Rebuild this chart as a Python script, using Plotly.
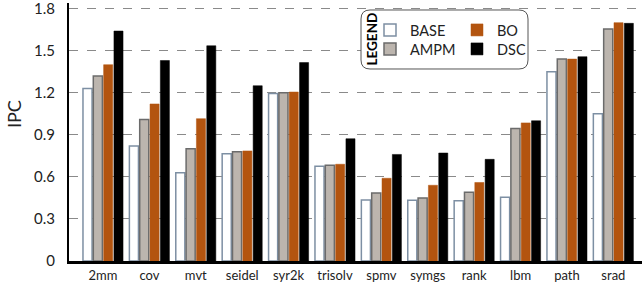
import plotly.graph_objects as go

categories = ["2mm", "cov", "mvt", "seidel", "syr2k", "trisolv", "spmv", "symgs", "rank", "lbm", "path", "srad"]
base = [1.23, 0.82, 0.63, 0.765, 1.195, 0.675, 0.435, 0.433, 0.43, 0.455, 1.35, 1.05]
ampm = [1.32, 1.01, 0.80, 0.78, 1.20, 0.683, 0.485, 0.45, 0.49, 0.945, 1.44, 1.655]
bo = [1.40, 1.12, 1.015, 0.785, 1.205, 0.69, 0.59, 0.54, 0.56, 0.985, 1.44, 1.70]
dsc = [1.64, 1.43, 1.535, 1.25, 1.415, 0.872, 0.76, 0.77, 0.725, 1.00, 1.457, 1.695]
y_ticks = [0, 0.3, 0.6, 0.9, 1.2, 1.5, 1.8]
y_tick_labels = ["0", "0.3", "0.6", "0.9", "1.2", "1.5", "1.8"]

FONT = "Lato"
W, H = 642, 287
ML, MR, MT, MB = 69, 0, 3, 26
PW, PH = W - ML - MR, H - MT - MB

def px_x(p):
    return (p - ML) / PW

def px_y(p):
    return (H - MB - p) / PH

fig = go.Figure()
series = [
    ("BASE", base, "#ffffff", "#7d8fa3", 1.5, "legend", 370, 30),
    ("AMPM", ampm, "#bcb5ae", "#6b6b6b", 1.5, "legend3", 370, 49),
    ("BO", bo, "#b3540f", "#b3540f", 0.5, "legend2", 457, 30),
    ("DSC", dsc, "#000000", "#000000", 0.5, "legend4", 457, 49),
]
legends = {}
for name, vals, fill, line, lw, leg, lx, ly in series:
    fig.add_trace(go.Bar(
        name=name, x=categories, y=vals,
        marker=dict(color=fill, line=dict(color=line, width=lw)),
        legend=leg,
    ))
    legends[leg] = dict(x=px_x(lx), y=px_y(ly), xanchor="left", yanchor="middle",
                        bgcolor="rgba(0,0,0,0)", font=dict(size=14.5, family=FONT, color="#222222"),
                        itemclick=False)

fig.update_layout(
    width=W, height=H,
    margin=dict(l=ML, r=MR, t=MT, b=MB),
    paper_bgcolor="white", plot_bgcolor="white",
    barmode="group", bargap=0.11, bargroupgap=0.12,
    font=dict(family=FONT, color="#222222"),
    showlegend=True,
    **legends,
)

fig.update_xaxes(
    type="category", range=[-0.733, 11.617],
    showline=True, linecolor="black", linewidth=3,
    showgrid=False, ticks="", tickfont=dict(size=13, family=FONT, color="#222222"),
)
fig.update_yaxes(
    range=[0, 1.84], tickvals=y_ticks, ticktext=y_tick_labels,
    showline=True, linecolor="black", linewidth=2,
    showgrid=True, gridcolor="#8a8a8a", griddash="dash", gridwidth=1,
    zeroline=False, ticks="outside", ticklen=9, tickcolor="rgba(0,0,0,0)",
    ticklabeloverflow="allow",
    tickfont=dict(size=15, family=FONT, color="#222222"),
)

# Rounded legend box (pixel coordinates converted to paper)
x0, x1, y0, y1, r = 361, 528, 10, 69, 9
pts = [("M", x0 + r, y0), ("L", x1 - r, y0), ("Q", x1, y0, x1, y0 + r),
       ("L", x1, y1 - r), ("Q", x1, y1, x1 - r, y1), ("L", x0 + r, y1),
       ("Q", x0, y1, x0, y1 - r), ("L", x0, y0 + r), ("Q", x0, y0, x0 + r, y0)]
segs = []
for p in pts:
    cmd, coords = p[0], p[1:]
    xy = [f"{px_x(coords[i]):.5f},{px_y(coords[i + 1]):.5f}" for i in range(0, len(coords), 2)]
    segs.append(cmd + " " + " ".join(xy))
fig.add_shape(type="path", path=" ".join(segs) + " Z", xref="paper", yref="paper",
              fillcolor="white", line=dict(color="#555555", width=1), layer="above")

fig.add_annotation(text="<b>LEGEND</b>", x=px_x(371), y=px_y(39.5), xref="paper", yref="paper",
                   xanchor="center", yanchor="middle",
                   textangle=-90, showarrow=False, font=dict(size=13.5, family=FONT, color="black"))
fig.add_annotation(text="IPC", x=px_x(14), y=px_y(114), xref="paper", yref="paper",
                   xanchor="center", yanchor="middle",
                   textangle=-90, showarrow=False, font=dict(size=18, family=FONT, color="#222222"))

fig.write_html("out.html", config={"displayModeBar": False},
               post_script="document.body.style.margin='0';document.body.style.padding='0';")
